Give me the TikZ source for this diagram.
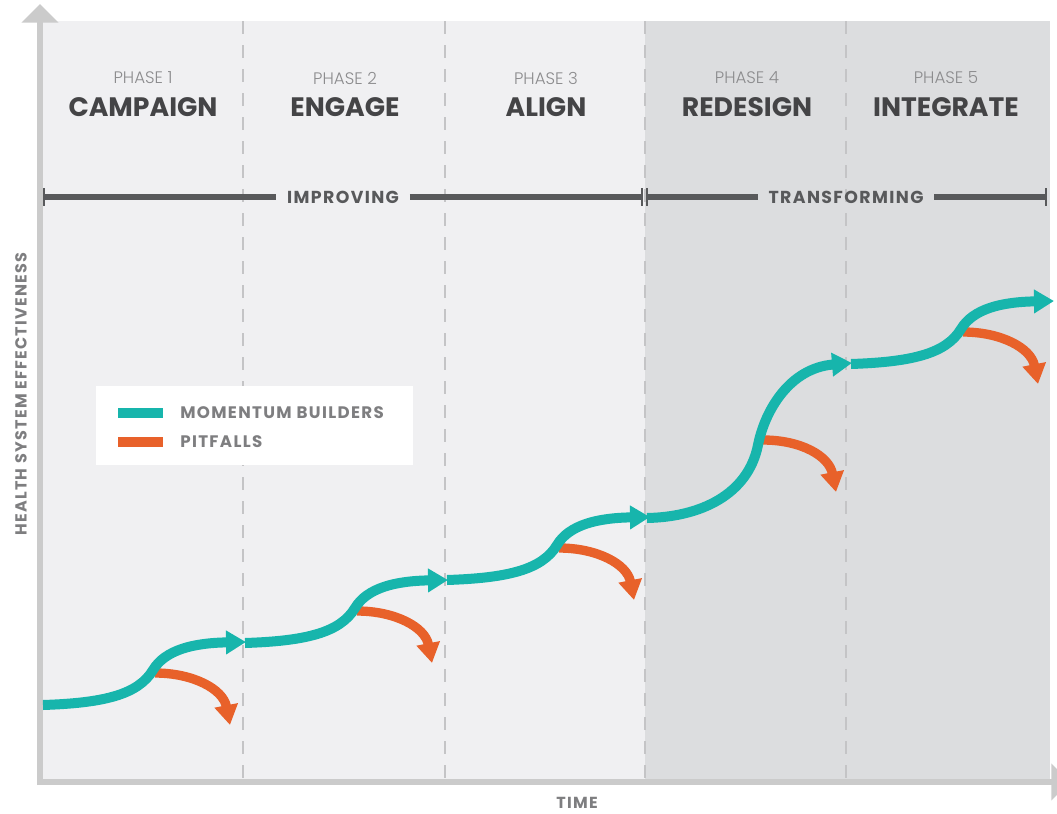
\documentclass[tikz,border=0pt]{standalone}
\usepackage{fontspec}
\setmainfont{Poppins}
\newfontfamily\lightfont{Poppins Light}
\newfontfamily\spacedfont{Poppins}[LetterSpace=8]
\usetikzlibrary{arrows.meta}

\definecolor{panelA}{HTML}{F0F0F2}
\definecolor{panelB}{HTML}{DCDDDF}
\definecolor{axisgray}{HTML}{CBCBCB}
\definecolor{dashgray}{HTML}{C4C4C6}
\definecolor{titlegray}{HTML}{444446}
\definecolor{numgray}{HTML}{8C8C8E}
\definecolor{bargray}{HTML}{58595B}
\definecolor{labelgray}{HTML}{7E7E80}
\definecolor{buildercol}{HTML}{17B5AC}
\definecolor{pitfallcol}{HTML}{E8612A}

\tikzset{
  builder/.style={line width=7.5pt, draw=buildercol, -{Triangle[length=15pt,width=17pt]}},
  pitfall/.style={line width=7pt, draw=pitfallcol, -{Triangle[length=15pt,width=17pt]}},
  axisline/.style={line width=4.5pt, draw=axisgray, -{Triangle[length=14pt,width=27pt]}},
  phaseline/.style={line width=1.5pt, draw=dashgray, dash pattern=on 10pt off 8pt},
  bracket/.style={line width=4.5pt, draw=bargray},
  brackettick/.style={line width=2.2pt, draw=bargray},
  phasenum/.style={text=numgray, font=\lightfont\fontsize{12.5pt}{14pt}\selectfont},
  phasetitle/.style={text=titlegray, font=\bfseries\fontsize{20pt}{24pt}\selectfont},
  stagelabel/.style={text=bargray, inner sep=8pt, font=\spacedfont\bfseries\fontsize{13pt}{15pt}\selectfont},
  legendtext/.style={text=labelgray, anchor=west, inner sep=0pt, font=\spacedfont\bfseries\fontsize{12.5pt}{14pt}\selectfont},
  axislabel/.style={text=labelgray, inner sep=0pt, font=\spacedfont\bfseries\fontsize{12pt}{14pt}\selectfont},
}

\begin{document}
\begin{tikzpicture}[x=0.75pt, y=-0.75pt]
  \useasboundingbox (0,0) rectangle (1057,814);

  % Panels
  \fill[panelA] (43,21) rectangle (645,779);
  \fill[panelB] (645,21) rectangle (1050,779);

  % Phase borders
  \foreach \px in {243,445,645,846}
    \draw[phaseline] (\px,21) -- (\px,779);

  % Axes
  \coordinate (origin) at (40,782);
  \coordinate (ytop) at (40,4);
  \coordinate (xend) at (1070,782);
  \draw[axisline] (40,785) -- (ytop);
  \draw[axisline] (37,782) -- (xend);
  \node[axislabel, rotate=90] (ylab) at (21,394) {HEALTH SYSTEM EFFECTIVENESS};
  \node[axislabel] (xlab) at (577,803) {TIME};

  % Phase headings
  \foreach \i/\px/\title in {1/143/CAMPAIGN,2/345/ENGAGE,3/546/ALIGN,4/747/REDESIGN,5/946/INTEGRATE} {
    \node[phasenum] (num\i) at (\px,78) {PHASE \i};
    \node[phasetitle] (title\i) at (\px,107) {\title};
  }

  % Improving / transforming
  \coordinate (imp-l) at (44,197);
  \coordinate (imp-r) at (642,197);
  \coordinate (tra-l) at (647,197);
  \coordinate (tra-r) at (1046,197);
  \node[stagelabel] (imp) at (343,197) {IMPROVING};
  \node[stagelabel] (tra) at (846,197) {TRANSFORMING};
  \draw[bracket] (imp-l) -- (imp.west);
  \draw[bracket] (imp.east) -- (imp-r);
  \draw[bracket] (tra-l) -- (tra.west);
  \draw[bracket] (tra.east) -- (tra-r);
  \foreach \c in {imp-l,imp-r,tra-l,tra-r}
    \draw[brackettick] (\c) +(0,-9) -- +(0,9);

  % Legend
  \fill[white] (96,386) rectangle (413,465);
  \coordinate (lb-a) at (118,413);
  \coordinate (lb-b) at (163,413);
  \coordinate (lp-a) at (118,442);
  \coordinate (lp-b) at (163,442);
  \draw[buildercol, line width=7.5pt] (lb-a) -- (lb-b);
  \draw[pitfallcol, line width=7pt] (lp-a) -- (lp-b);
  \node[legendtext] (lbtext) at (180,413) {MOMENTUM BUILDERS};
  \node[legendtext] (lptext) at (180,442) {PITFALLS};

  % Momentum builders and pitfalls
  \foreach \i/\sx/\sy in {1/43/705,2/245/643,3/447/580,5/851/364} {
    \begin{scope}[shift={(\sx,\sy)}]
      \coordinate (mb\i) at (0,0);
      \coordinate (mbt\i) at (203,-63);
      \coordinate (pf\i) at (112,-32);
      \coordinate (pft\i) at (187,20);
      \draw[pitfall] (pf\i) .. controls (150,-32) and (180,-16) .. (pft\i);
      \draw[builder] (mb\i) .. controls (60,-2) and (95,-10) .. (110,-35)
        .. controls (122,-55) and (150,-62) .. (mbt\i);
    \end{scope}
  }

  % Redesign jump
  \coordinate (mb4) at (647,518);
  \coordinate (mbt4) at (852,363);
  \coordinate (pf4) at (763,440);
  \coordinate (pft4) at (836,492);
  \draw[pitfall] (pf4) .. controls (801,440) and (829,456) .. (pft4);
  \draw[builder] (mb4) .. controls (700,517) and (748,495) .. (758,445)
    .. controls (765,410) and (790,368) .. (mbt4);
\end{tikzpicture}
\end{document}
